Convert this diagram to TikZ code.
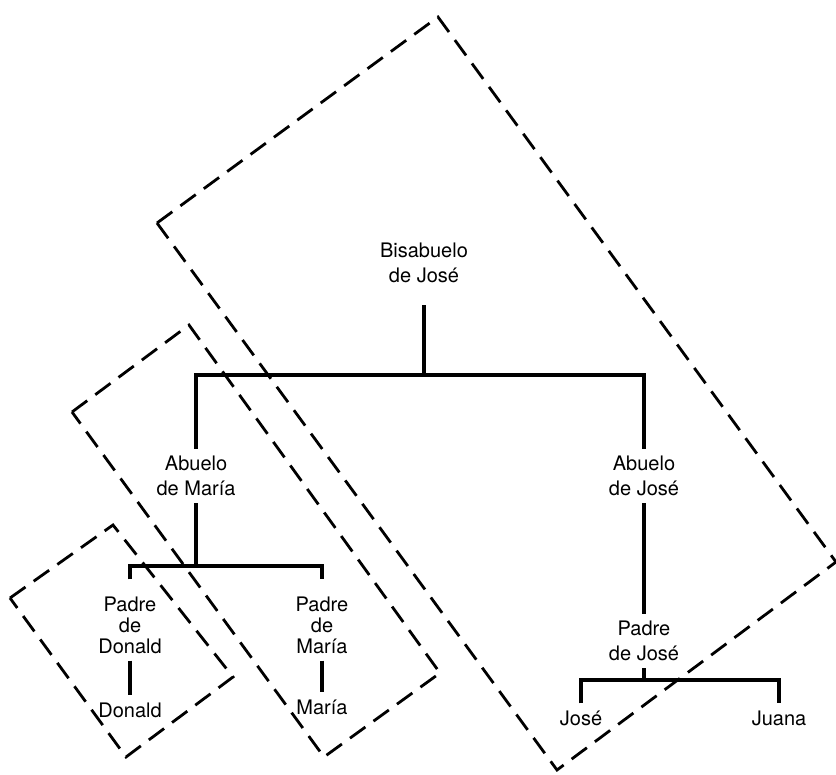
\documentclass[tikz,border=0pt]{standalone}
\usepackage{fontspec}
\setmainfont{TeX Gyre Heros}
\usetikzlibrary{positioning}

\begin{document}
\begin{tikzpicture}[
    x=1pt, y=-1pt,
    person/.style={inner sep=7pt, align=center, font=\fontsize{20}{25}\selectfont},
    tall/.style={font=\fontsize{20}{21}\selectfont},
    tree/.style={line width=4.3pt}, % family lines
    frame/.style={line width=2.8pt, dash pattern=on 19pt off 10pt, line join=miter} % dashed groups
  ]
  \useasboundingbox (0,0) rectangle (836,775);

  % Dashed groups
  \draw[frame] (157,223) -- (438,17) -- (836,562) -- (557,770) -- cycle;
  \draw[frame] (72,412) -- (189,325) -- (440,673) -- (324,757) -- cycle;
  \draw[frame] (10,598) -- (113,525) -- (233,677) -- (126,757) -- cycle;

  % Nodes
  \node[person] (bis) at (424,263) {Bisabuelo\\de José};
  \node[person] (abM) at (196,476) {Abuelo\\de María};
  \node[person] (abJ) at (644,476) {Abuelo\\de José};
  \node[person, tall] (paD) at (130,625) {Padre\\de\\Donald};
  \node[person, tall] (paM) at (322,625) {Padre\\de\\María};
  \node[person] (paJ) at (644,641) {Padre\\de José};
  \node[person] (don) at (130,710) {Donald};
  \node[person] (mar) at (322,707) {María};
  \node[person] (jose) at (581,718) {José};
  \node[person] (juana) at (779,718) {Juana};

  % Lines
  \coordinate (jBis) at (424,375);
  \coordinate (jAbM) at (196,566);
  \coordinate (jPaJ) at (644,680);
  \draw[tree, shorten <=15pt] (bis) -- (jBis);
  \draw[tree] (abM.north) |- (jBis) -| (abJ.north);
  \draw[tree] (abM) -- (jAbM);
  \draw[tree, shorten <=10pt, shorten >=10pt] (paD.north) |- (jAbM) -| (paM.north);
  \draw[tree] (paD) -- (don);
  \draw[tree] (paM) -- (mar);
  \draw[tree] (abJ) -- (paJ);
  \draw[tree] (paJ) -- (jPaJ);
  \draw[tree] (jose.north) |- (jPaJ) -| (juana.north);

\end{tikzpicture}
\end{document}
